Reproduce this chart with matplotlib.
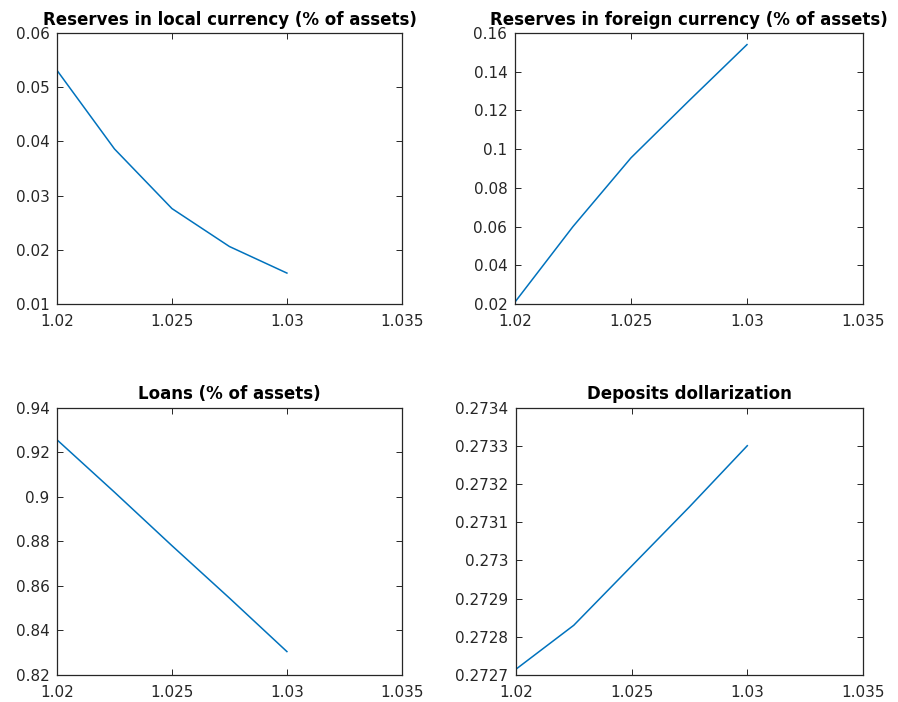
import numpy as np
import matplotlib
matplotlib.use("Agg")
import matplotlib.pyplot as plt

plt.rcParams['font.family'] = ['DejaVu Sans']

# gross interest rate grid
rates = [1.02, 1.0225, 1.025, 1.0275, 1.03]

reserves_local = [0.0531, 0.0386, 0.0276, 0.0206, 0.0157]
reserves_foreign = [0.0210, 0.0600, 0.0955, 0.1250, 0.1540]
loans = [0.9255, 0.9020, 0.8780, 0.8545, 0.8305]
deposits_dollar = [0.272715, 0.272830, 0.272985, 0.273140, 0.273300]

titles = ['Reserves in local currency (% of assets)',
          'Reserves in foreign currency (% of assets)',
          'Loans (% of assets)',
          'Deposits dollarization']
series = [reserves_local, reserves_foreign, loans, deposits_dollar]
yticks = [[0.01, 0.02, 0.03, 0.04, 0.05, 0.06],
          [0.02, 0.04, 0.06, 0.08, 0.1, 0.12, 0.14, 0.16],
          [0.82, 0.84, 0.86, 0.88, 0.9, 0.92, 0.94],
          [0.2727, 0.2728, 0.2729, 0.273, 0.2731, 0.2732, 0.2733, 0.2734]]
xticks = [1.02, 1.025, 1.03, 1.035]

# axes boxes [left, bottom, width, height] in figure fractions
boxes = [[0.0635, 0.567, 0.384, 0.386],
         [0.5735, 0.567, 0.3875, 0.386],
         [0.0635, 0.0385, 0.384, 0.381],
         [0.5745, 0.0385, 0.3865, 0.381]]

fig = plt.figure(figsize=(8.98, 7.02), dpi=100)

for box, title, y, yt in zip(boxes, titles, series, yticks):
    ax = fig.add_axes(box)
    ax.plot(rates, y, color='#0072BD', lw=1.1)
    ax.set_xlim(1.02, 1.035)
    ax.set_ylim(yt[0], yt[-1])
    ax.set_xticks(xticks)
    ax.set_xticklabels(['%g' % v for v in xticks])
    ax.set_yticks(yt)
    ax.set_yticklabels(['%g' % v for v in yt])
    ax.tick_params(direction='in', top=True, right=True, length=4,
                   width=0.7, labelsize=11, colors='#262626')
    ax.tick_params(axis='x', pad=7.5)
    ax.tick_params(axis='y', pad=5.5)
    for s in ax.spines.values():
        s.set_color('#262626')
        s.set_linewidth(0.9)
    ax.set_title(title, fontsize=12, fontweight='bold', pad=6)

fig.savefig('out.png', dpi=100)
